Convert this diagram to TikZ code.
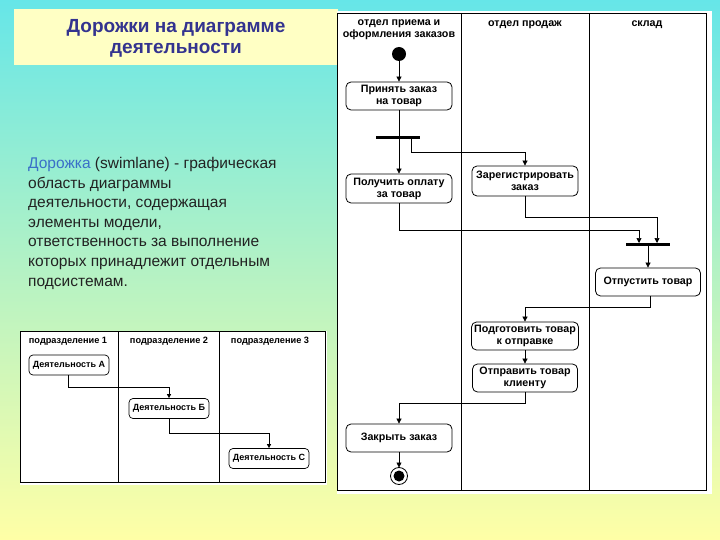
\documentclass[tikz,border=0pt]{standalone}
\usepackage{fontspec}
\setmainfont{Liberation Sans}
\usetikzlibrary{arrows.meta}
\definecolor{bgtop}{HTML}{66E6E8}
\definecolor{bgmid}{HTML}{B4F2C4}
\definecolor{bgbot}{HTML}{FFFFA6}
\definecolor{titlebg}{HTML}{FFFFC4}
\definecolor{titlefg}{HTML}{33338F}
\definecolor{termblue}{HTML}{3A6FC8}
\definecolor{bodytxt}{HTML}{222222}
\tikzset{
  act/.style={draw, rounded corners=5pt, line width=0.8pt, fill=white, align=center, font=\bfseries\fontsize{10.7}{12}\selectfont, inner sep=0pt},
  sact/.style={draw, rounded corners=4pt, line width=0.7pt, fill=white, align=center, font=\bfseries\fontsize{9}{10}\selectfont, inner sep=0pt},
  flow/.style={line width=0.7pt, -{Triangle[length=5pt,width=5pt]}},
  sflow/.style={line width=0.6pt, -{Triangle[length=4pt,width=4pt]}},
  lane/.style={line width=0.8pt},
  bar/.style={line width=3pt},
  hdr/.style={font=\bfseries\fontsize{10.7}{12}\selectfont, align=center, anchor=north},
  shdr/.style={font=\bfseries\fontsize{9.2}{10}\selectfont, anchor=north},
}
\begin{document}
\begin{tikzpicture}[x=1pt,y=-1pt]
\useasboundingbox (0,0) rectangle (720,540);
% background
\shade[top color=bgtop, bottom color=bgbot, middle color=bgmid] (0,0) rectangle (720,540);
% title
\fill[titlebg] (14,9) rectangle (338,65);
\node[font=\bfseries\fontsize{19}{21}\selectfont, text=titlefg, align=center] (title) at (176,38.5) {Дорожки на диаграмме\\деятельности};
% description
\node[anchor=north west, align=left, text=bodytxt, font=\fontsize{15.5}{19.6}\selectfont, inner sep=0pt] (desc) at (28,157)
 {\textcolor{termblue}{Дорожка} (swimlane) - графическая\\область диаграммы\\деятельности, содержащая\\элементы модели,\\ответственность за выполнение\\которых принадлежит отдельным\\подсистемам.};

% ===== big diagram =====
\fill[white] (337,11) rectangle (712,494);
\draw[lane] (337,13) rectangle (706,490);
\draw[lane] (461,13) -- (461,490);
\draw[lane] (589,13) -- (589,490);
\node[hdr] (h1) at (399,16.5) {отдел приема и\\оформления заказов};
\node[hdr] (h2) at (525,17.5) {отдел продаж};
\node[hdr] (h3) at (647,17.5) {склад};

\fill (399,54) circle (7);
\coordinate (start) at (399,61);
\node[act, minimum width=106pt, minimum height=28pt] (a1) at (399,96) {Принять заказ\\на товар};
\draw[bar] (376,138) -- (420,138);
\coordinate (fork) at (399,138);
\coordinate (forkr) at (411,138);
\node[act, minimum width=106pt, minimum height=29pt] (a2) at (399,188.5) {Получить оплату\\за товар};
\node[act, minimum width=106pt, minimum height=30pt] (a3) at (525,181) {Зарегистрировать\\заказ};
\draw[bar] (626,244) -- (670,244);
\coordinate (join) at (648,244);
\node[act, minimum width=105pt, minimum height=28pt] (a4) at (648,282) {Отпустить товар};
\coordinate (a4out) at (650,296);
\node[act, minimum width=107pt, minimum height=28pt] (a5) at (525,336) {Подготовить товар\\к отправке};
\node[act, minimum width=105pt, minimum height=28pt] (a6) at (525,378) {Отправить товар\\клиенту};
\node[act, minimum width=106pt, minimum height=28pt] (a7) at (399,438) {Закрыть заказ};
\draw[line width=0.8pt, fill=white] (399,476) circle (8.5);
\fill (399,476) circle (5.5);
\coordinate (endc) at (399,467.5);

\draw[flow] (start) -- (a1.north);
\draw[line width=0.7pt] (a1.south) -- (fork);
\draw[flow] (fork) -- (a2.north);
\draw[flow] (forkr) -- (411,152) -| (a3.north);
\draw[flow] (a2.south) |- (639,230) -- (639,243);
\draw[flow] (a3.south) |- (657,217) -- (657,243);
\draw[flow] (join) -- (a4.north);
\draw[flow] (a4out) |- (525,307) -- (a5.north);
\draw[flow] (a5.south) -- (a6.north);
\draw[flow] (a6.south) |- (399,403) -- (a7.north);
\draw[flow] (a7.south) -- (endc);

% ===== small diagram =====
\fill[white] (20,331) rectangle (327,485);
\draw[line width=0.7pt] (20,331) rectangle (325,482);
\draw[line width=0.7pt] (118,331) -- (118,482);
\draw[line width=0.7pt] (219,331) -- (219,482);
\node[shdr] (s1) at (68,334) {подразделение 1};
\node[shdr] (s2) at (169,334) {подразделение 2};
\node[shdr] (s3) at (270,334) {подразделение 3};
\node[sact, minimum width=80pt, minimum height=20pt] (b1) at (69,365) {Деятельность А};
\coordinate (b1out) at (68,375);
\node[sact, minimum width=80pt, minimum height=20pt] (b2) at (169,408.5) {Деятельность Б};
\node[sact, minimum width=80pt, minimum height=20pt] (b3) at (269,458.5) {Деятельность С};
\draw[sflow] (b1out) |- (169,387) -- (b2.north);
\draw[sflow] (b2.south) |- (269,433) -- (b3.north);
\end{tikzpicture}
\end{document}
